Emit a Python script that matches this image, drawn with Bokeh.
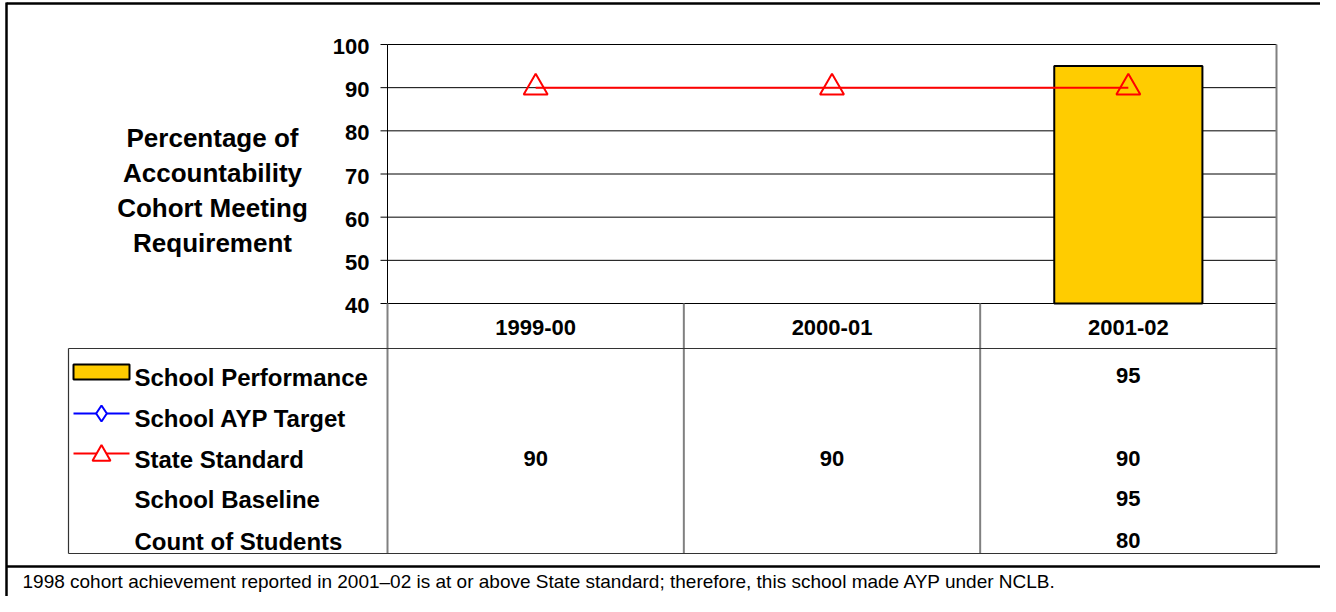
import numpy as np
from bokeh.plotting import figure
from bokeh.models import Range1d
from bokeh.core.properties import value
from bokeh.embed import file_html
from bokeh.resources import INLINE

# ---------------- data ----------------
categories = ["1999-00", "2000-01", "2001-02"]
school_performance = [None, None, 95]
school_ayp_target = [None, None, None]
state_standard = [90, 90, 90]
school_baseline = [None, None, 95]
count_of_students = [None, None, 80]
y_ticks = [40, 50, 60, 70, 80, 90, 100]
row_labels = ["School Performance", "School AYP Target", "State Standard",
              "School Baseline", "Count of Students"]
y_title_lines = ["Percentage of", "Accountability", "Cohort Meeting", "Requirement"]
footnote = ("1998 cohort achievement reported in 2001\u201302 is at or above State "
            "standard; therefore, this school made AYP under NCLB.")

# ---------------- layout (picture pixels) ----------------
W, H = 1320, 596
PL, PR, PT, PB = 387, 1276, 44, 303
n = len(categories)
YMIN, YMAX = y_ticks[0], y_ticks[-1]
ux = n / (PR - PL)
uy = (YMAX - YMIN) / (PB - PT)


def X(px):
    return (px - PL) * ux


def Y(py):
    return YMAX - (py - PT) * uy


F = value("Liberation Sans")

p = figure(width=W, height=H,
           x_range=Range1d(X(0), X(W)),
           y_range=Range1d(Y(H), Y(0)),
           min_border=0, toolbar_location=None, output_backend="svg",
           x_axis_location=None, y_axis_location=None,
           outline_line_color=None,
           background_fill_color="white", border_fill_color="white")
p.grid.visible = False

cx = np.arange(n) + 0.5

# gridlines (behind bar)
grid_vals = y_ticks[1:]
p.segment(x0=[0] * len(grid_vals), x1=[n] * len(grid_vals), y0=grid_vals, y1=grid_vals,
          line_color="black", line_width=1)

# bar: School Performance
bi = [i for i, v in enumerate(school_performance) if v is not None]
p.vbar(x=[cx[i] for i in bi], top=[school_performance[i] for i in bi], bottom=YMIN,
       width=0.5, fill_color="#FFCC00", line_color="black", line_width=2)

# axis line, ticks
p.segment(x0=[0], x1=[0], y0=[YMIN], y1=[YMAX], line_color="black", line_width=1)
p.segment(x0=[X(380)] * len(y_ticks), x1=[0] * len(y_ticks), y0=y_ticks, y1=y_ticks,
          line_color="black", line_width=1)
p.segment(x0=[0], x1=[n], y0=[YMIN], y1=[YMIN], line_color="black", line_width=1)

# right plot border + table column lines
p.segment(x0=[n], x1=[n], y0=[YMAX], y1=[Y(553)], line_color="#808080", line_width=2)
p.segment(x0=list(range(n)), x1=list(range(n)), y0=[YMIN] * n, y1=[Y(553)] * n,
          line_color="#808080", line_width=2)
p.segment(x0=[X(68), X(68)], x1=[n, n], y0=[Y(348), Y(553)], y1=[Y(348), Y(553)],
          line_color="#333333", line_width=1.2)
p.segment(x0=[X(68)], x1=[X(68)], y0=[Y(348)], y1=[Y(553)],
          line_color="#333333", line_width=1.2)

# State Standard line + markers
p.line(cx, state_standard, line_color="#FF0000", line_width=2)
p.scatter(cx, state_standard, marker="triangle", size=24, fill_color=None,
          line_color="#FF0000", line_width=2)

# y tick labels
p.text(x=[X(369)] * len(y_ticks), y=[t - 2 * uy for t in y_ticks],
       text=[str(t) for t in y_ticks], text_align="right", text_baseline="middle",
       text_font=F, text_font_style="bold", text_font_size="22px", text_color="black")

# y title
title_y = [Y(137), Y(172), Y(207), Y(242)]
p.text(x=[X(212)] * len(y_title_lines), y=title_y, text=y_title_lines,
       text_align="center", text_baseline="middle",
       text_font=F, text_font_style="bold", text_font_size="26px", text_color="black")

# header category labels
p.text(x=cx, y=[Y(327)] * n, text=categories, text_align="center", text_baseline="middle",
       text_font=F, text_font_style="bold", text_font_size="22px", text_color="black")

# legend rows
row_y = [Y(377), Y(418), Y(459), Y(499), Y(541)]
p.text(x=[X(134)] * len(row_labels), y=row_y, text=row_labels,
       text_align="left", text_baseline="middle",
       text_font=F, text_font_style="bold", text_font_size="24px", text_color="black")

# legend glyphs
p.quad(left=[X(73)], right=[X(129)], top=[Y(364)], bottom=[Y(379)],
       fill_color="#FFCC00", line_color="black", line_width=2)
p.segment(x0=[X(73)], x1=[X(129)], y0=[Y(413)], y1=[Y(413)], line_color="#0000FF", line_width=2)
p.scatter([X(101)], [Y(413)], marker="diamond", size=16, fill_color="white",
          line_color="#0000FF", line_width=2)
p.segment(x0=[X(73)], x1=[X(129)], y0=[Y(453)], y1=[Y(453)], line_color="#FF0000", line_width=2)
p.scatter([X(101)], [Y(455)], marker="triangle", size=18, fill_color="white",
          line_color="#FF0000", line_width=2)

# table values
series = [school_performance, school_ayp_target, state_standard, school_baseline, count_of_students]
val_y = [Y(375), Y(416), Y(458), Y(498), Y(540)]
tx, ty, tt = [], [], []
for s, yy in zip(series, val_y):
    for i, v in enumerate(s):
        if v is not None:
            tx.append(cx[i]); ty.append(yy); tt.append(str(v))
p.text(x=tx, y=ty, text=tt, text_align="center", text_baseline="middle",
       text_font=F, text_font_style="bold", text_font_size="22px", text_color="black")

# outer frame
p.segment(x0=[X(6)], x1=[X(6)], y0=[Y(2)], y1=[Y(H)], line_color="black", line_width=2.5)
p.segment(x0=[X(6)], x1=[X(W)], y0=[Y(3)], y1=[Y(3)], line_color="black", line_width=2.5)
p.segment(x0=[X(6)], x1=[X(W)], y0=[Y(566)], y1=[Y(566)], line_color="black", line_width=2.5)

# footnote
p.text(x=[X(22)], y=[Y(581)], text=[footnote], text_align="left", text_baseline="middle",
       text_font=F, text_font_size="19px", text_color="black")

open("out.html", "w").write(file_html(p, INLINE))
